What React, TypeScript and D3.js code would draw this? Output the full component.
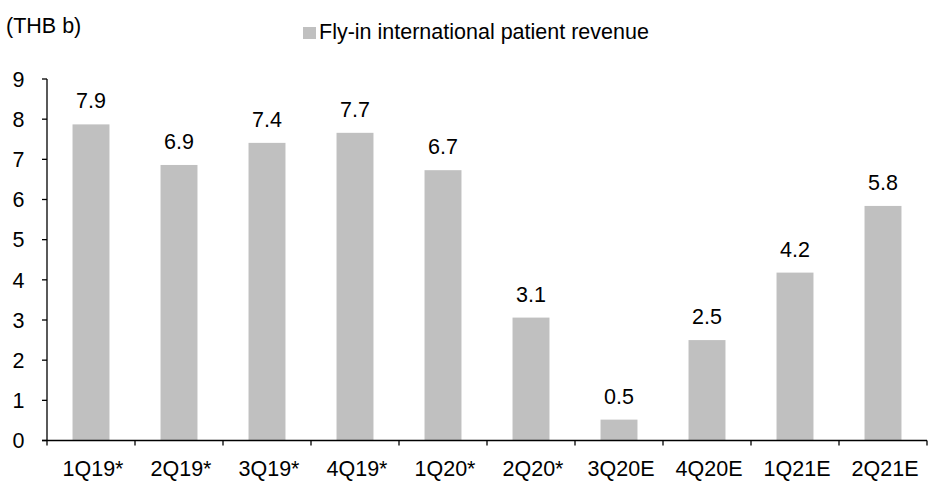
import React from "react";
import * as d3 from "d3";

const categories = ["1Q19*", "2Q19*", "3Q19*", "4Q19*", "1Q20*", "2Q20*", "3Q20E", "4Q20E", "1Q21E", "2Q21E"];
const values = [7.87, 6.86, 7.41, 7.66, 6.73, 3.06, 0.52, 2.5, 4.18, 5.84];
const yTicks = [0, 1, 2, 3, 4, 5, 6, 7, 8, 9];
const seriesName = "Fly-in international patient revenue";
const unitLabel = "(THB b)";

export default function App() {
  const W = 951, H = 484;
  const left = 47, right = 927, top = 79, bottom = 440.5;
  const x = d3.scaleBand<string>().domain(categories).range([left, right]).paddingInner(0.58).paddingOuter(0.29);
  const y = d3.scaleLinear().domain([0, 9]).range([bottom, top]);
  const font = "'Liberation Sans', Arial, sans-serif";
  const fs = 21.5;
  const step = (right - left) / categories.length;
  const barColor = "#c0c0c0";
  return (
    <svg width={W} height={H} style={{ position: "absolute", left: 0, top: 0 }} fontFamily={font}>
      <rect width={W} height={H} fill="#fff" />
      <text x={6} y={33} fontSize={fs} fill="#000">{unitLabel}</text>
      <rect x={303} y={27} width={13} height={12} fill={barColor} />
      <text x={319} y={38.5} fontSize={fs} fill="#000">{seriesName}</text>
      {categories.map((c, i) => (
        <g key={c}>
          <rect x={x(c)} y={y(values[i])} width={x.bandwidth()} height={bottom - y(values[i])} fill={barColor} />
          <text x={(x(c) as number) + x.bandwidth() / 2} y={y(values[i]) - 16} fontSize={fs} textAnchor="middle" fill="#000">
            {values[i].toFixed(1)}
          </text>
          <text x={left + step * (i + 0.5) + 2} y={476} fontSize={fs} textAnchor="middle" fill="#000">{c}</text>
        </g>
      ))}
      <line x1={left} x2={left} y1={top} y2={bottom} stroke="#000" strokeWidth={1.3} />
      <line x1={left - 5} x2={right} y1={bottom} y2={bottom} stroke="#000" strokeWidth={1.3} />
      {yTicks.map((t) => (
        <g key={t}>
          <line x1={left - 5} x2={left} y1={y(t)} y2={y(t)} stroke="#000" strokeWidth={1.3} />
          <text x={24.5} y={y(t) + 7.7} fontSize={fs} textAnchor="end" fill="#000">{t}</text>
        </g>
      ))}
      {d3.range(categories.length + 1).map((i) => (
        <line key={i} x1={left + step * i} x2={left + step * i} y1={bottom} y2={bottom + 5} stroke="#000" strokeWidth={1.3} />
      ))}
    </svg>
  );
}
